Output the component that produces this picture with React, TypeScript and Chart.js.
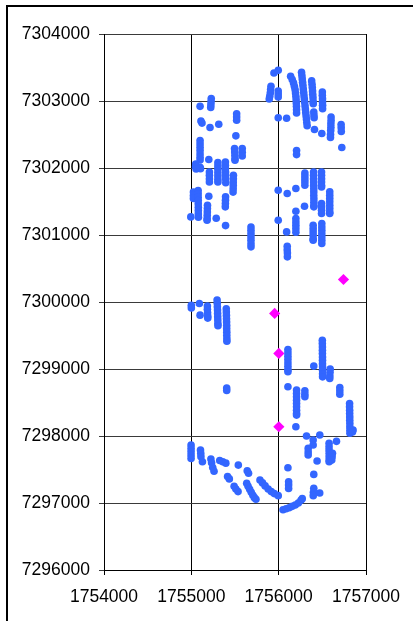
import React, { useEffect, useRef } from "react";
import { Chart, registerables } from "chart.js";

Chart.register(...registerables);

const X_MIN = 1754000;
const X_MAX = 1757000;
const X_STEP = 1000;
const Y_MIN = 7296000;
const Y_MAX = 7304000;
const Y_STEP = 1000;

// Survey points (blue circles)
const surveyPoints: [number, number][] = [
  // top centre
  [1755946, 7303418], [1755995, 7303458],
  [1755912, 7303220], [1755908, 7303170], [1755904, 7303120], [1755898, 7303070], [1755892, 7303030],
  [1755995, 7303150], [1755995, 7303105], [1755995, 7303060],
  [1755995, 7302750], [1756091, 7302742],
  [1756137, 7303369], [1756155, 7303320], [1756170, 7303270], [1756180, 7303220], [1756188, 7303170], [1756193, 7303120],
  [1756197, 7303070], [1756200, 7303020], [1756202, 7302970], [1756204, 7302920], [1756205, 7302870], [1756205, 7302820],
  [1756262, 7303430], [1756266, 7303380], [1756270, 7303330], [1756274, 7303280], [1756278, 7303230], [1756282, 7303180],
  [1756286, 7303130], [1756290, 7303080], [1756294, 7303030], [1756298, 7302980], [1756302, 7302930], [1756306, 7302880],
  [1756310, 7302830], [1756314, 7302780], [1756318, 7302730], [1756322, 7302680], [1756326, 7302630],
  [1756378, 7303300], [1756382, 7303250], [1756385, 7303200], [1756388, 7303150], [1756390, 7303100], [1756393, 7303050],
  [1756395, 7302990], [1756396, 7302960],
  [1756402, 7302835], [1756404, 7302790], [1756406, 7302750],
  [1756500, 7303135], [1756500, 7303085], [1756502, 7303035], [1756502, 7302985], [1756503, 7302935], [1756503, 7302885],
  [1756410, 7302574], [1756494, 7302514],
  [1756600, 7302760], [1756600, 7302710], [1756598, 7302660], [1756598, 7302610], [1756596, 7302560], [1756594, 7302500], [1756593, 7302455],
  [1756715, 7302650], [1756716, 7302600], [1756717, 7302545],
  [1756723, 7302305],
  [1756205, 7302260], [1756205, 7302200],
  // upper left
  [1755100, 7302920],
  [1755228, 7303036], [1755226, 7302990], [1755224, 7302945], [1755222, 7302902],
  [1755110, 7302700], [1755122, 7302670],
  [1755214, 7302604], [1755314, 7302653],
  [1755519, 7302810], [1755519, 7302760], [1755519, 7302713],
  [1755510, 7302480],
  [1755100, 7302410], [1755100, 7302360], [1755100, 7302310], [1755100, 7302260], [1755100, 7302210], [1755100, 7302160], [1755100, 7302120],
  [1755200, 7302126],
  [1755050, 7302060], [1755048, 7302020], [1755055, 7301985], [1755100, 7302010], [1755105, 7301990],
  [1755495, 7302290], [1755497, 7302240], [1755499, 7302190], [1755500, 7302140], [1755500, 7302116],
  [1755583, 7302290], [1755583, 7302235], [1755583, 7302180],
  [1755207, 7301940], [1755207, 7301890], [1755207, 7301840], [1755207, 7301792],
  [1755304, 7302080], [1755304, 7302030], [1755304, 7301980], [1755304, 7301930], [1755304, 7301880], [1755304, 7301830], [1755304, 7301790],
  [1755390, 7302090], [1755390, 7302040], [1755390, 7301990], [1755392, 7301940], [1755392, 7301890], [1755393, 7301840], [1755394, 7301780],
  [1755482, 7301890], [1755481, 7301840], [1755480, 7301790], [1755480, 7301740], [1755479, 7301690], [1755478, 7301640],
  [1755024, 7301640], [1755024, 7301590], [1755024, 7301545],
  [1755078, 7301665], [1755078, 7301615], [1755078, 7301565], [1755079, 7301515], [1755079, 7301465], [1755080, 7301415],
  [1755080, 7301365], [1755080, 7301315], [1755081, 7301265],
  [1755200, 7301579],
  [1755185, 7301445], [1755184, 7301395], [1755183, 7301345], [1755182, 7301295], [1755181, 7301245], [1755180, 7301221],
  [1755392, 7301570], [1755391, 7301520], [1755390, 7301470], [1755389, 7301420],
  [1754994, 7301270], [1755285, 7301250], [1755392, 7301140],
  [1755683, 7301120], [1755683, 7301070], [1755683, 7301020], [1755683, 7300970], [1755683, 7300920], [1755683, 7300870], [1755683, 7300823],
  // right middle
  [1755995, 7301668], [1756098, 7301619], [1756197, 7301694],
  [1756300, 7301925], [1756300, 7301880], [1756300, 7301835], [1756300, 7301790], [1756300, 7301743],
  [1756400, 7301940], [1756400, 7301890], [1756400, 7301840], [1756401, 7301790], [1756401, 7301740], [1756402, 7301690],
  [1756402, 7301640], [1756402, 7301590], [1756403, 7301540], [1756403, 7301490], [1756403, 7301440], [1756403, 7301420],
  [1756491, 7301940], [1756491, 7301890], [1756491, 7301840], [1756491, 7301790], [1756491, 7301740], [1756491, 7301718],
  [1756491, 7301470], [1756491, 7301420], [1756491, 7301370], [1756491, 7301321],
  [1756585, 7301645], [1756585, 7301595], [1756585, 7301545], [1756585, 7301495], [1756585, 7301445], [1756585, 7301395],
  [1756585, 7301345], [1756585, 7301321],
  [1756296, 7301430],
  [1756197, 7301355],
  [1756197, 7301245], [1756197, 7301195], [1756197, 7301145], [1756197, 7301095], [1756197, 7301040],
  [1755995, 7301221], [1756091, 7301046],
  [1756395, 7301145], [1756395, 7301095], [1756395, 7301045], [1756395, 7300995], [1756395, 7300945], [1756395, 7300923],
  [1756494, 7301170], [1756494, 7301120], [1756494, 7301070], [1756494, 7301020], [1756494, 7300970], [1756494, 7300920], [1756494, 7300873],
  [1756098, 7300833], [1756098, 7300780], [1756100, 7300730], [1756100, 7300674],
  // middle left
  [1755000, 7299950], [1755000, 7299910],
  [1755092, 7299978], [1755100, 7299804],
  [1755184, 7299940], [1755184, 7299890], [1755186, 7299840], [1755188, 7299790], [1755188, 7299760],
  [1755295, 7300028], [1755297, 7299980], [1755298, 7299930], [1755300, 7299880], [1755301, 7299830], [1755302, 7299780],
  [1755303, 7299730], [1755304, 7299680], [1755305, 7299645],
  [1755400, 7299900], [1755401, 7299850], [1755402, 7299800], [1755403, 7299750], [1755404, 7299700], [1755405, 7299650],
  [1755405, 7299600], [1755406, 7299550], [1755406, 7299500], [1755407, 7299450], [1755407, 7299415],
  [1755405, 7298715], [1755405, 7298680],
  // lower right
  [1756106, 7299290], [1756106, 7299240], [1756106, 7299190], [1756106, 7299140], [1756106, 7299090], [1756106, 7299040],
  [1756106, 7298990], [1756106, 7298958],
  [1756402, 7299043],
  [1756500, 7299430], [1756500, 7299380], [1756501, 7299330], [1756501, 7299280], [1756501, 7299230], [1756502, 7299180],
  [1756502, 7299130], [1756502, 7299080], [1756503, 7299030], [1756503, 7298980], [1756503, 7298930], [1756503, 7298883],
  [1756590, 7299000], [1756588, 7298950], [1756586, 7298900], [1756585, 7298860],
  [1756106, 7298734],
  [1756205, 7298685], [1756205, 7298635], [1756205, 7298585], [1756205, 7298535], [1756205, 7298485], [1756205, 7298435],
  [1756205, 7298385], [1756205, 7298335], [1756205, 7298312],
  [1756300, 7298675], [1756300, 7298625], [1756300, 7298585],
  [1756700, 7298725], [1756700, 7298675], [1756700, 7298625],
  [1756812, 7298485], [1756812, 7298435], [1756813, 7298385], [1756813, 7298335], [1756814, 7298285], [1756814, 7298235],
  [1756815, 7298185], [1756815, 7298135], [1756816, 7298085], [1756816, 7298040], [1756852, 7298088], [1756845, 7298060],
  [1756197, 7298138],
  [1756319, 7297999], [1756471, 7298014],
  [1756395, 7297939], [1756395, 7297865],
  [1756338, 7297815], [1756338, 7297760], [1756338, 7297716],
  [1756577, 7297890], [1756577, 7297840], [1756577, 7297790], [1756578, 7297740], [1756578, 7297690], [1756578, 7297640], [1756578, 7297616],
  [1756616, 7297741], [1756612, 7297690], [1756608, 7297640],
  [1756662, 7297920], [1756440, 7297626], [1756106, 7297526], [1756402, 7297427],
  [1756114, 7297317], [1756114, 7297270], [1756114, 7297218],
  [1756402, 7297220], [1756398, 7297160], [1756396, 7297110], [1756470, 7297150],
  [1756050, 7296900], [1756085, 7296915], [1756120, 7296930], [1756155, 7296950], [1756190, 7296970], [1756225, 7297000],
  [1756255, 7297040], [1756270, 7297065],
  // lower left arc
  [1754997, 7297865], [1754997, 7297815], [1754997, 7297765], [1754997, 7297715], [1754997, 7297666],
  [1755105, 7297790], [1755108, 7297740], [1755110, 7297690], [1755127, 7297616],
  [1755224, 7297655], [1755232, 7297600], [1755245, 7297530], [1755260, 7297475],
  [1755325, 7297635], [1755360, 7297615], [1755395, 7297595],
  [1755538, 7297566],
  [1755415, 7297395], [1755435, 7297360],
  [1755640, 7297480], [1755655, 7297445],
  [1755490, 7297250], [1755510, 7297210], [1755535, 7297170],
  [1755634, 7297295], [1755650, 7297250], [1755668, 7297205], [1755686, 7297160], [1755705, 7297115], [1755722, 7297080], [1755740, 7297055],
  [1755786, 7297342], [1755815, 7297300], [1755845, 7297255], [1755880, 7297210], [1755915, 7297170], [1755950, 7297140], [1755995, 7297110],
];

// Special points (magenta diamonds)
const markerPoints: [number, number][] = [
  [1756742, 7300336],
  [1755954, 7299829],
  [1756002, 7299232],
  [1756002, 7298138],
];

const toXY = (arr: [number, number][]) => arr.map(([x, y]) => ({ x, y }));

export default function App() {
  const canvasRef = useRef<HTMLCanvasElement | null>(null);

  useEffect(() => {
    if (!canvasRef.current) return;
    const font = { family: "'Liberation Sans', Arial, sans-serif", size: 17.5 };
    const chart = new Chart(canvasRef.current, {
      type: "scatter",
      data: {
        datasets: [
          {
            data: toXY(surveyPoints),
            backgroundColor: "#3366FF",
            borderColor: "#3366FF",
            borderWidth: 0,
            pointRadius: 3.8,
            pointStyle: "circle",
          },
          {
            data: toXY(markerPoints),
            backgroundColor: "#FF00FF",
            borderColor: "#FF00FF",
            borderWidth: 0,
            pointRadius: 5.6,
            pointStyle: "rectRot",
          },
        ],
      },
      options: {
        animation: false,
        responsive: false,
        devicePixelRatio: 1,
        layout: { padding: { left: 0, top: 34, right: 47, bottom: 0 } },
        plugins: { legend: { display: false }, tooltip: { enabled: false } },
        scales: {
          x: {
            type: "linear",
            min: X_MIN,
            max: X_MAX,
            afterFit: (s: any) => { s.height = 51; },
            ticks: {
              stepSize: X_STEP,
              color: "#000",
              font,
              padding: 12,
              maxRotation: 0,
              callback: (v: any) => String(v),
            },
            grid: { color: "#000", lineWidth: 1, tickLength: 5, drawTicks: true },
            border: { display: true, color: "#000", width: 1 },
          },
          y: {
            type: "linear",
            min: Y_MIN,
            max: Y_MAX,
            afterFit: (s: any) => { s.width = 104; },
            ticks: {
              stepSize: Y_STEP,
              color: "#000",
              font,
              padding: 9,
              callback: (v: any) => String(v),
            },
            grid: { color: "#3a3a3a", lineWidth: 1, tickLength: 5, drawTicks: true },
            border: { display: true, color: "#000", width: 1 },
          },
        },
      },
    });
    return () => chart.destroy();
  }, []);

  return (
    <div style={{ position: "absolute", left: 0, top: 0, width: 413, height: 621, overflow: "hidden", background: "#fff" }}>
      <div
        style={{
          position: "absolute",
          left: 6,
          top: 5,
          width: 600,
          height: 800,
          borderLeft: "2px solid #000",
          borderTop: "2px solid #000",
        }}
      />
      <canvas ref={canvasRef} width={413} height={621} style={{ position: "absolute", left: 0, top: 0, width: 413, height: 621 }} />
    </div>
  );
}
